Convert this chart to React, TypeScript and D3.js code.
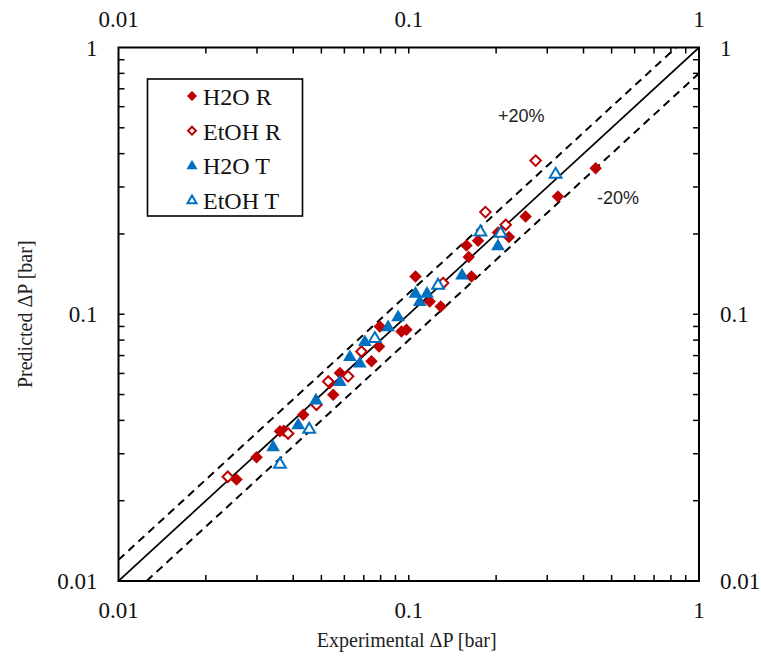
import React from 'react';
import * as d3 from 'd3';

// ---- Data ----
const h2oRExp = [0.0255, 0.0299, 0.0360, 0.0371, 0.0433, 0.0535, 0.0549, 0.0579, 0.0744, 0.0790, 0.0795, 0.0944, 0.0982, 0.1055, 0.1181, 0.1289, 0.158, 0.1609, 0.1644, 0.1733, 0.2029, 0.2214, 0.2528, 0.3266, 0.4403];
const h2oRPred = [0.0240, 0.0291, 0.0364, 0.0366, 0.0420, 0.0553, 0.0499, 0.0602, 0.0666, 0.0757, 0.0900, 0.0862, 0.0875, 0.1385, 0.1117, 0.107, 0.181, 0.1638, 0.1385, 0.1885, 0.2025, 0.1946, 0.2325, 0.2762, 0.3528];

const etohRExp = [0.0238, 0.0384, 0.0481, 0.0528, 0.0618, 0.0687, 0.1313, 0.1837, 0.2158, 0.2736];
const etohRPred = [0.0246, 0.0357, 0.0458, 0.0560, 0.0585, 0.0725, 0.1309, 0.2415, 0.2164, 0.3767];

const h2oTExp = [0.0341, 0.0416, 0.0479, 0.0579, 0.0627, 0.0678, 0.0706, 0.0849, 0.0919, 0.1055, 0.1091, 0.1156, 0.1526, 0.2029];
const h2oTPred = [0.0319, 0.0386, 0.0478, 0.0560, 0.0695, 0.0657, 0.0791, 0.0900, 0.0981, 0.1201, 0.1117, 0.1201, 0.1406, 0.1810];

const etohTExp = [0.0360, 0.0454, 0.0764, 0.1262, 0.1766, 0.2073, 0.3206];
const etohTPred = [0.0275, 0.0372, 0.0814, 0.1290, 0.2042, 0.2019, 0.3360];

const tickLabels = [0.01, 0.1, 1];
const seriesNames = ['H2O R', 'EtOH R', 'H2O T', 'EtOH T'];
const bandFactors = [1.2, 0.8];

const RED = '#C00000';
const BLUE = '#0070C0';
const SERIF = '"Liberation Serif", "Times New Roman", serif';
const SANS = '"Liberation Sans", Arial, sans-serif';

const W = 761, H = 660;
const L = 118.5, R = 699, T = 47.5, B = 581;

function diamond(cx: number, cy: number, r: number) {
  return `M${cx},${cy - r}L${cx + r},${cy}L${cx},${cy + r}L${cx - r},${cy}Z`;
}
function triangle(cx: number, cy: number, s: number) {
  const h = s * 0.85;
  return `M${cx},${cy - h * 0.6}L${cx + s / 2},${cy + h * 0.4}L${cx - s / 2},${cy + h * 0.4}Z`;
}

function Marker({ kind, cx, cy, size }: { kind: number; cx: number; cy: number; size: number }) {
  if (kind === 0) return <path d={diamond(cx, cy, size * 0.5)} fill={RED} />;
  if (kind === 1) return <path d={diamond(cx, cy, size * 0.5 - 1)} fill="white" stroke={RED} strokeWidth={2} />;
  if (kind === 2) return <path d={triangle(cx, cy, size * 1.1)} fill={BLUE} />;
  return <path d={triangle(cx, cy, size * 1.1 - 2)} fill="white" stroke={BLUE} strokeWidth={2} />;
}

export default function App() {
  const x = d3.scaleLog().domain([0.01, 1]).range([L, R]);
  const y = d3.scaleLog().domain([0.01, 1]).range([B, T]);
  const ticks = x.ticks().filter((t) => t > 0.0100001 && t < 0.99999);
  const line = d3.line<[number, number]>().x((d) => x(d[0])).y((d) => y(d[1]));

  const series = [
    { xs: h2oRExp, ys: h2oRPred },
    { xs: etohRExp, ys: etohRPred },
    { xs: h2oTExp, ys: h2oTPred },
    { xs: etohTExp, ys: etohTPred },
  ];

  const fmt = (v: number) => (v === 1 ? '1' : String(v));
  const tickLen = 6;

  return (
    <svg width={W} height={H} style={{ position: 'absolute', left: 0, top: 0, background: 'white' }}>
      <defs>
        <clipPath id="plot">
          <rect x={L} y={T} width={R - L} height={B - T} />
        </clipPath>
      </defs>
      <rect x={0} y={0} width={W} height={H} fill="white" />

      {/* reference lines */}
      <g clipPath="url(#plot)">
        <path d={line([[0.01, 0.01], [1, 1]]) || ''} stroke="black" strokeWidth={1.7} fill="none" />
        {bandFactors.map((f) => (
          <path
            key={f}
            d={line([[0.01 / Math.min(f, 1), 0.01 * Math.max(f, 1)], [1 / Math.max(f, 1), Math.min(f, 1)]]) || ''}
            stroke="black"
            strokeWidth={2}
            strokeDasharray="8,5.5"
            fill="none"
          />
        ))}
      </g>

      {/* points */}
      {series.map((s, si) => (
        <g key={si}>
          {s.xs.map((xv, i) => (
            <Marker key={i} kind={si} cx={x(xv)} cy={y(s.ys[i])} size={12.5} />
          ))}
        </g>
      ))}

      {/* frame */}
      <rect x={L} y={T} width={R - L} height={B - T} fill="none" stroke="black" strokeWidth={2} />

      {/* ticks */}
      {ticks.map((t) => (
        <g key={t} stroke="black" strokeWidth={1.5}>
          <line x1={x(t)} x2={x(t)} y1={B} y2={B - tickLen} />
          <line x1={x(t)} x2={x(t)} y1={T} y2={T + tickLen} />
          <line x1={L} x2={L + tickLen} y1={y(t)} y2={y(t)} />
          <line x1={R} x2={R - tickLen} y1={y(t)} y2={y(t)} />
        </g>
      ))}

      {/* tick labels */}
      <g fontFamily={SERIF} fontSize={23} fill="#111">
        {tickLabels.map((t) => (
          <React.Fragment key={t}>
            <text x={x(t)} y={B + 37} textAnchor="middle">{fmt(t)}</text>
            <text x={x(t)} y={T - 21} textAnchor="middle">{fmt(t)}</text>
            <text x={L - 21} y={y(t) + 8} textAnchor="end">{fmt(t)}</text>
            <text x={R + 21} y={y(t) + 8} textAnchor="start">{fmt(t)}</text>
          </React.Fragment>
        ))}
      </g>

      {/* axis titles */}
      <text x={(L + R) / 2 - 2} y={647} textAnchor="middle" fontFamily={SERIF} fontSize={20} fill="#222">
        Experimental ΔP [bar]
      </text>
      <text
        transform={`translate(32, ${(T + B) / 2}) rotate(-90)`}
        textAnchor="middle"
        fontFamily={SERIF}
        fontSize={20}
        fill="#222"
      >
        Predicted ΔP [bar]
      </text>

      {/* band labels */}
      <text x={498} y={121.5} fontFamily={SANS} fontSize={18} fill="#222">+20%</text>
      <text x={597} y={204} fontFamily={SANS} fontSize={18} fill="#222">-20%</text>

      {/* legend */}
      <rect x={147.5} y={79} width={155} height={137} fill="white" stroke="black" strokeWidth={1.6} />
      {seriesNames.map((n, i) => {
        const cy = 97 + i * 34.7;
        return (
          <g key={n}>
            <Marker kind={i} cx={192} cy={cy - 1} size={10} />
            <text x={203} y={cy + 8} fontFamily={SERIF} fontSize={24} fill="#111">{n}</text>
          </g>
        );
      })}
    </svg>
  );
}
